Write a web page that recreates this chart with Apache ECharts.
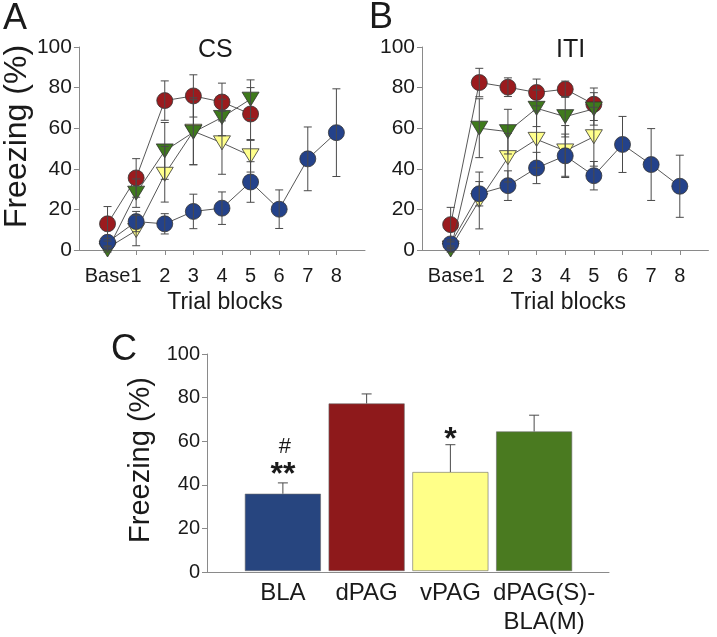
<!DOCTYPE html>
<html>
<head>
<meta charset="utf-8">
<script src="https://cdn.jsdelivr.net/npm/echarts@6/dist/echarts.min.js"></script>
<style>
html,body{margin:0;padding:0;background:#fff;}
#chart{width:717px;height:637px;}
</style>
</head>
<body>
<div id="chart"></div>
<script>
// ---------- data ----------
const blocks = ['Base', '1', '2', '3', '4', '5', '6', '7', '8'];
const yTicks = [0, 20, 40, 60, 80, 100];

// Panel A (CS)
const csBLA = [3.8, 14, 12.9, 19, 20.6, 33.5, 20.1, 44.9, 57.8];
const csBLAerr = [2, 5, 5, 8.5, 8, 10, 9.5, 15.7, 21.6];
const csdPAG = [12.9, 35.5, 73.6, 75.9, 72.9, 67.0];
const csdPAGerr = [8.5, 9.5, 9.7, 10.4, 9.3, 13];
const csvPAG = [1, 9.6, 37.3, 58.5, 52.8, 46.4];
const csvPAGerr = [1, 7.5, 13.7, 16.5, 15.5, 8];
const csMix = [0, 28, 48.8, 58, 65.3, 74.3];
const csMixErr = [1, 7, 14, 16, 9, 9.5];

// Panel B (ITI)
const itiBLA = [3, 27.7, 31.7, 40.4, 46.4, 36.6, 52, 42.1, 31.4];
const itiBLAerr = [2, 6, 7.3, 7.7, 10.7, 7, 13.8, 17.7, 15.3];
const itidPAG = [12.5, 82.5, 80.2, 77.6, 79.2, 71.8];
const itidPAGerr = [8.5, 7, 4.6, 6.6, 4, 8];
const itivPAG = [1, 24.4, 45.5, 54.5, 48.8, 55.8];
const itivPAGerr = [1, 14, 12, 14, 12.5, 14.5];
const itiMix = [0, 60, 58.3, 69.8, 65.7, 69.5];
const itiMixErr = [1, 14.5, 11, 9, 10, 8];

// Panel C (bars)
const groups = ['BLA', 'dPAG', 'vPAG', 'dPAG(S)-\nBLA(M)'];
const barMeans = [35.6, 77.2, 45.6, 64.3];
const barErr = [5, 4.4, 12.6, 7.5];
const sigStars = ['**', '', '*', ''];
const sigHash = ['#', '', '', ''];

// ---------- styles ----------
const FONT = "'Liberation Sans', Arial, sans-serif";
const TXT = '#1a1a1a';
const AXIS = '#8a8a8a';
const markerColors = {BLA: '#24428a', dPAG: '#9b1b1e', vPAG: '#ffff8c', mix: '#3f7a1c'};
const barColors = ['#27457f', '#8e191b', '#ffff88', '#4a7a20'];

const paddedBlocks = [' '].concat(blocks, ['  ']);

function lineXAxis(gridIndex) {
  return {
    type: 'category', gridIndex: gridIndex, data: paddedBlocks, boundaryGap: false,
    axisLine: {show: true, lineStyle: {color: AXIS, width: 1}},
    axisTick: {show: true, length: 5, lineStyle: {color: AXIS},
      interval: function (i, v) { return v.trim() !== ''; }},
    axisLabel: {show: true, interval: 0, color: TXT, fontSize: 20, fontFamily: FONT, margin: 16},
    splitLine: {show: false},
    name: 'Trial blocks', nameLocation: 'middle', nameGap: 41,
    nameTextStyle: {color: TXT, fontSize: 23, fontFamily: FONT, padding: [0, 0, 0, 6]}
  };
}
function valYAxis(gridIndex, fontSize, name, nameSize, nameGap, namePad) {
  return {
    type: 'value', gridIndex: gridIndex, min: 0, max: 100, interval: 20,
    axisLine: {show: true, lineStyle: {color: AXIS, width: 1}},
    axisTick: {show: true, length: 5, inside: false, lineStyle: {color: AXIS}},
    axisLabel: {color: TXT, fontSize: fontSize, fontFamily: FONT, margin: 7},
    splitLine: {show: false},
    name: name || '', nameLocation: 'middle', nameRotate: 90, nameGap: nameGap || 40,
    nameTextStyle: {color: TXT, fontSize: nameSize || 30, fontFamily: FONT,
      padding: [0, 0, 0, namePad || 0]}
  };
}

function lineSeries(axisIdx, values, color, isTri, z) {
  return {
    type: 'line', xAxisIndex: axisIdx, yAxisIndex: axisIdx,
    data: values.map((v, i) => [blocks[i], v]),
    symbol: isTri ? 'triangle' : 'circle',
    symbolSize: isTri ? [17, 14] : 16,
    symbolRotate: isTri ? 180 : 0,
    showSymbol: true, clip: false,
    lineStyle: {color: '#444', width: 0.9},
    itemStyle: {color: color, borderColor: '#333', borderWidth: 0.8},
    emphasis: {disabled: true},
    z: z, silent: true
  };
}
function errSeries(axisIdx, values, errs, z) {
  return {
    type: 'custom', xAxisIndex: axisIdx, yAxisIndex: axisIdx,
    data: values.map((v, i) => [blocks[i], v, errs[i]]),
    encode: {x: 0, y: 1},
    clip: false, z: z, silent: true,
    renderItem: function (params, api) {
      const x = api.value(0), v = api.value(1), e = api.value(2);
      const top = api.coord([x, v + e]);
      const bot = api.coord([x, Math.max(v - e, -3)]);
      const w = 4;
      const st = {stroke: '#4a4a4a', lineWidth: 1};
      return {type: 'group', children: [
        {type: 'line', shape: {x1: top[0], y1: top[1], x2: bot[0], y2: bot[1]}, style: st},
        {type: 'line', shape: {x1: top[0] - w, y1: top[1], x2: top[0] + w, y2: top[1]}, style: st},
        {type: 'line', shape: {x1: bot[0] - w, y1: bot[1], x2: bot[0] + w, y2: bot[1]}, style: st}
      ]};
    }
  };
}

function panelSeries(axisIdx, d) {
  return [
    lineSeries(axisIdx, d.dPAG, markerColors.dPAG, false, 3),
    lineSeries(axisIdx, d.vPAG, markerColors.vPAG, true, 4),
    lineSeries(axisIdx, d.mix, markerColors.mix, true, 5),
    lineSeries(axisIdx, d.BLA, markerColors.BLA, false, 6),
    errSeries(axisIdx, d.dPAG, d.dPAGerr, 7),
    errSeries(axisIdx, d.vPAG, d.vPAGerr, 7),
    errSeries(axisIdx, d.mix, d.mixErr, 7),
    errSeries(axisIdx, d.BLA, d.BLAerr, 7)
  ];
}

const chart = echarts.init(document.getElementById('chart'), null, {renderer: 'canvas'});

const option = {
  animation: false,
  backgroundColor: '#fff',
  textStyle: {fontFamily: FONT},
  grid: [
    {left: 73, top: 47, width: 292, height: 203},   // A
    {left: 422, top: 47, width: 292, height: 203},  // B
    {left: 207, top: 354, width: 402, height: 218}, // C axis frame
    {left: 241, top: 354, width: 335, height: 218}  // C bars
  ],
  xAxis: [
    lineXAxis(0),
    lineXAxis(1),
    {type: 'value', gridIndex: 2, min: 0, max: 1,
      axisLine: {show: true, lineStyle: {color: AXIS}}, axisTick: {show: false},
      axisLabel: {show: false}, splitLine: {show: false}},
    {type: 'category', gridIndex: 3, boundaryGap: true,
      data: groups.map((g, i) => i === groups.length - 1
        ? {value: g, textStyle: {padding: [0, 0, 0, 20]}} : g),
      axisLine: {show: false}, axisTick: {show: false},
      axisLabel: {color: TXT, fontSize: 24, fontFamily: FONT, lineHeight: 29, margin: 8, interval: 0}}
  ],
  yAxis: [
    valYAxis(0, 21, 'Freezing (%)', 32, 42, 24),
    valYAxis(1, 21),
    valYAxis(2, 20, 'Freezing (%)', 29, 43, 6),
    {type: 'value', gridIndex: 3, min: 0, max: 100, show: false}
  ],
  graphic: [
    {type: 'text', left: 3, top: 1, style: {text: 'A', font: '36px ' + FONT, fill: TXT}},
    {type: 'text', left: 369, top: 0, style: {text: 'B', font: '36px ' + FONT, fill: TXT}},
    {type: 'text', left: 111, top: 332, style: {text: 'C', font: '36px ' + FONT, fill: TXT}},
    {type: 'text', left: 198, top: 38, style: {text: 'CS', font: '25px ' + FONT, fill: TXT}},
    {type: 'text', left: 556, top: 38, style: {text: 'ITI', font: '25px ' + FONT, fill: TXT}}
  ],
  series: [].concat(
    panelSeries(0, {BLA: csBLA, BLAerr: csBLAerr, dPAG: csdPAG, dPAGerr: csdPAGerr,
      vPAG: csvPAG, vPAGerr: csvPAGerr, mix: csMix, mixErr: csMixErr}),
    panelSeries(1, {BLA: itiBLA, BLAerr: itiBLAerr, dPAG: itidPAG, dPAGerr: itidPAGerr,
      vPAG: itivPAG, vPAGerr: itivPAGerr, mix: itiMix, mixErr: itiMixErr}),
    [
      {
        type: 'bar', xAxisIndex: 3, yAxisIndex: 3, barWidth: 76,
        data: barMeans.map((v, i) => ({value: v, itemStyle: {color: barColors[i]}})),
        itemStyle: {borderColor: '#6a6a6a', borderWidth: 0.6},
        emphasis: {disabled: true}, silent: true, z: 2
      },
      {
        type: 'custom', xAxisIndex: 3, yAxisIndex: 3, z: 5, silent: true, clip: false,
        data: barMeans.map((v, i) => [i, v, barErr[i]]),
        encode: {x: 0, y: 1},
        renderItem: function (params, api) {
          const i = params.dataIndex;
          const x = api.value(0), v = api.value(1), e = api.value(2);
          const base = api.coord([x, v]);
          const top = api.coord([x, v + e]);
          const st = {stroke: '#4a4a4a', lineWidth: 1};
          const kids = [
            {type: 'line', shape: {x1: base[0], y1: base[1], x2: top[0], y2: top[1]}, style: st},
            {type: 'line', shape: {x1: top[0] - 5, y1: top[1], x2: top[0] + 5, y2: top[1]}, style: st}
          ];
          if (sigStars[i]) {
            kids.push({type: 'text', x: top[0], y: top[1] - (sigHash[i] ? 8 : 5),
              style: {text: sigStars[i], font: 'bold 32px ' + FONT, fill: TXT,
                textAlign: 'center', textVerticalAlign: 'middle'}});
          }
          if (sigHash[i]) {
            kids.push({type: 'text', x: top[0] + 2, y: top[1] - 36,
              style: {text: sigHash[i], font: '22px ' + FONT, fill: TXT,
                textAlign: 'center', textVerticalAlign: 'middle'}});
          }
          return {type: 'group', children: kids};
        }
      }
    ]
  )
};
chart.setOption(option);
</script>
</body>
</html>
